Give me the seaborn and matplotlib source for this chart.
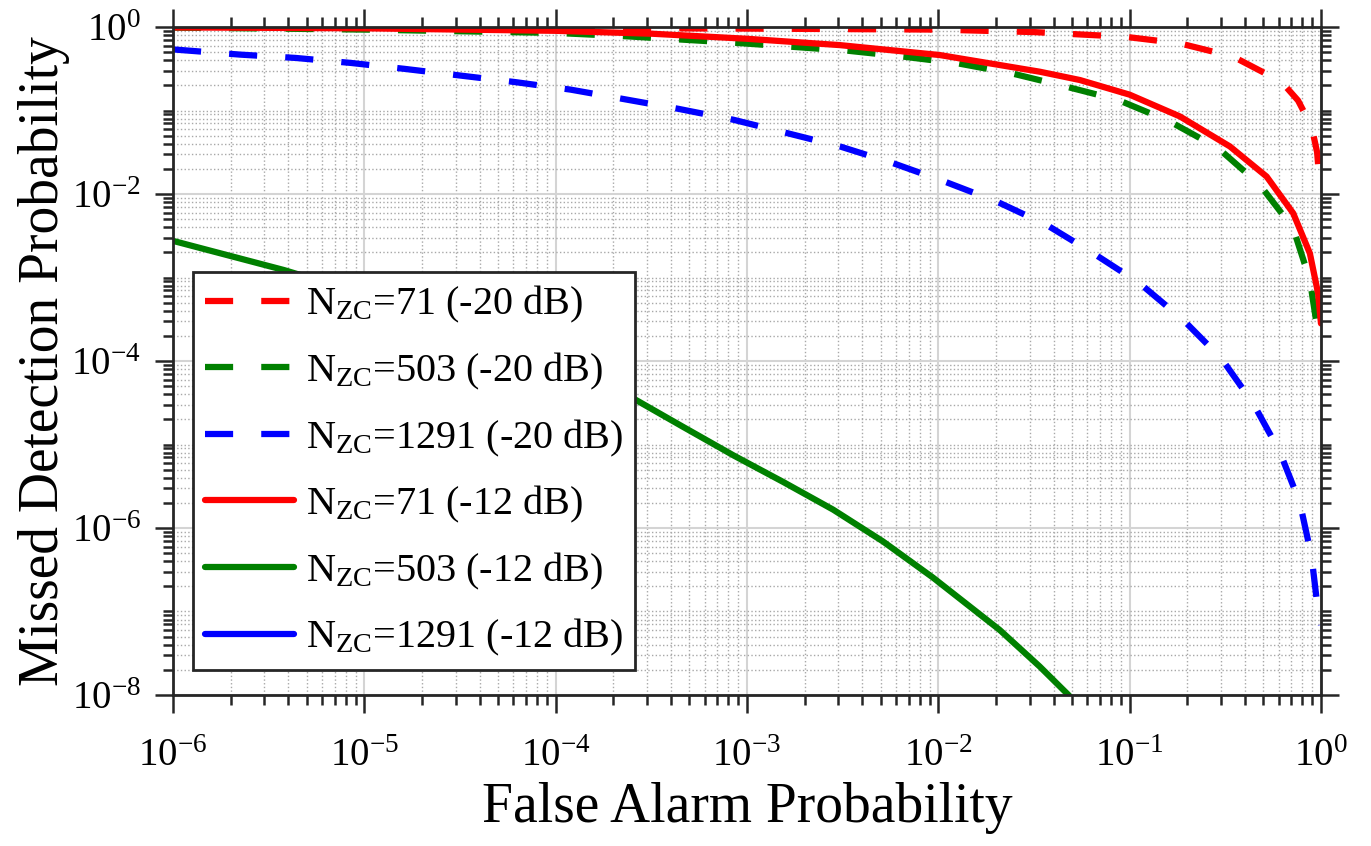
import warnings
warnings.filterwarnings("ignore")

import numpy as np
import pandas as pd
import matplotlib
matplotlib.use("Agg")

import matplotlib.pyplot as plt
import matplotlib.ticker as mticker
import seaborn as sns

# Values (false alarm prob -> missed detection prob)

# N_ZC = 71, -20 dB
pfa_71_m20 = [1e-6, 1e-5, 1e-4, 1e-3, 1e-2, 3.16e-2, 9.44e-2, 0.183, 0.348,
              0.622, 0.759, 0.893, 0.955, 0.979, 1.0]
pmd_71_m20 = [0.991, 0.982, 0.973, 0.959, 0.933, 0.871, 0.766, 0.638, 0.442,
              0.221, 0.132, 0.0646, 0.0316, 0.0155, 0.0117]

# N_ZC = 503, -20 dB
pfa_503_m20 = [1e-6, 1e-5, 1e-4, 2.34e-4, 8.9e-4, 3.39e-3, 6.6e-3, 1.27e-2,
               2.42e-2, 4.68e-2, 8.7e-2, 0.162, 0.29, 0.479, 0.716, 0.875,
               0.966, 1.0]
pmd_503_m20 = [0.989, 0.933, 0.851, 0.776, 0.646, 0.52, 0.442, 0.367,
               0.279, 0.193, 0.134, 0.0741, 0.0355, 0.0129, 3.89e-3, 9.33e-4,
               2.14e-4, 1.62e-4]

# N_ZC = 1291, -20 dB
pfa_1291_m20 = [1e-6, 2.24e-6, 4.37e-6, 8.5e-6, 1.62e-5, 3.16e-5, 6.17e-5,
                1.2e-4, 2.24e-4, 4.37e-4, 8.5e-4, 1.62e-3, 3.06e-3, 5.81e-3,
                1.08e-2, 2.02e-2, 3.68e-2, 6.46e-2, 0.113, 0.191, 0.302,
                0.443, 0.61, 0.776, 0.893, 0.966, 1.0]
pmd_1291_m20 = [0.54, 0.468, 0.427, 0.372, 0.316, 0.263, 0.219,
                0.178, 0.138, 0.105, 0.0776, 0.0537, 0.0372, 0.0234,
                0.0141, 8.13e-3, 4.27e-3, 1.95e-3, 8.51e-4, 3.09e-4, 1.07e-4,
                3.09e-5, 8.13e-6, 2.0e-6, 4.57e-7, 1e-7, 6.9e-8]

# N_ZC = 71, -12 dB
pfa_71_m12 = [1e-6, 1e-5, 1e-4, 3.2e-4, 1e-3, 3.06e-3, 1.02e-2, 3.39e-2,
              5.5e-2, 0.1, 0.183, 0.334, 0.52, 0.716, 0.875, 0.966, 1.0]
pmd_71_m12 = [0.991, 0.966, 0.902, 0.832, 0.724, 0.608, 0.462, 0.292,
              0.232, 0.155, 0.0851, 0.0372, 0.0162, 5.89e-3, 1.95e-3, 6.46e-4,
              2.82e-4]

# N_ZC = 503, -12 dB
pfa_503_m12 = [1e-6, 3.8e-6, 1e-5, 3.16e-5, 1e-4, 2.51e-4, 4.65e-4, 8.5e-4,
               1.55e-3, 2.82e-3, 5.13e-3, 9.33e-3, 2.09e-2, 3.39e-2, 4.79e-2,
               5.5e-2]
pmd_503_m12 = [2.75e-3, 1.23e-3, 6.3e-4, 2.5e-4, 8.9e-5, 3.63e-5, 1.62e-5,
               7.41e-6, 3.55e-6, 1.66e-6, 6.92e-7, 2.57e-7, 6.03e-8, 2.19e-8,
               1e-8, 7e-9]

# N_ZC = 1291, -12 dB stays below the plotted range
pfa_1291_m12 = [1e-6, 1e-5, 1e-4]
pmd_1291_m12 = [5e-9, 1e-10, 1e-12]

labels = [
    r"N$_{\rm ZC}$=71 (-20 dB)",
    r"N$_{\rm ZC}$=503 (-20 dB)",
    r"N$_{\rm ZC}$=1291 (-20 dB)",
    r"N$_{\rm ZC}$=71 (-12 dB)",
    r"N$_{\rm ZC}$=503 (-12 dB)",
    r"N$_{\rm ZC}$=1291 (-12 dB)",
]

series = [
    (pfa_71_m20, pmd_71_m20, "#ff0000", "--"),
    (pfa_503_m20, pmd_503_m20, "#008000", "--"),
    (pfa_1291_m20, pmd_1291_m20, "#0000ff", "--"),
    (pfa_71_m12, pmd_71_m12, "#ff0000", "-"),
    (pfa_503_m12, pmd_503_m12, "#008000", "-"),
    (pfa_1291_m12, pmd_1291_m12, "#0000ff", "-"),
]

sns.set_style("ticks")
plt.rcParams["font.family"] = ["Liberation Serif", "DejaVu Serif"]
plt.rcParams["mathtext.fontset"] = "custom"
plt.rcParams["mathtext.rm"] = "Liberation Serif"
plt.rcParams["mathtext.it"] = "Liberation Serif:italic"
plt.rcParams["mathtext.bf"] = "Liberation Serif:bold"
plt.rcParams["text.color"] = "black"
plt.rcParams["axes.labelcolor"] = "black"
plt.rcParams["xtick.color"] = "black"
plt.rcParams["ytick.color"] = "black"

fig = plt.figure(figsize=(13.71, 8.46), dpi=100)
ax = fig.add_axes([0.1262, 0.1785, 0.8373, 0.7895])

ax.set_xscale("log")
ax.set_yscale("log")

for (x, y, c, ls), lab in zip(series, labels):
    df = pd.DataFrame({"pfa": x, "pmd": y})
    style = (0, (4.5, 4.5)) if ls == "--" else "-"
    sns.lineplot(
        data=df,
        x="pfa",
        y="pmd",
        ax=ax,
        color=c,
        lw=4.5,
        linestyle=style,
        label=lab,
        sort=False
    )

ax.set_xlim(1e-6, 1)
ax.set_ylim(1e-8, 1)

ax.xaxis.set_major_locator(mticker.LogLocator(base=10, numticks=20))
ax.xaxis.set_minor_locator(mticker.LogLocator(base=10, subs=np.arange(2, 10), numticks=20))
ax.yaxis.set_major_locator(mticker.FixedLocator([1e-8, 1e-6, 1e-4, 1e-2, 1e0]))
ax.yaxis.set_minor_locator(mticker.LogLocator(base=10, subs=np.arange(1, 10), numticks=20))
ax.xaxis.set_major_formatter(mticker.LogFormatterMathtext())
ax.yaxis.set_major_formatter(mticker.LogFormatterMathtext())
ax.yaxis.set_minor_formatter(mticker.NullFormatter())
ax.xaxis.set_minor_formatter(mticker.NullFormatter())

ax.set_axisbelow(True)
ax.grid(which="major", color="#d4d4d4", lw=1.5, ls="-")
ax.grid(which="minor", color="#a8a8a8", lw=1.0, ls=":")

ax.tick_params(which="both", direction="out", top=True, right=True,
               width=1.8, color="#262626")
ax.tick_params(which="major", length=13, labelsize=28)
ax.tick_params(axis="x", which="major", pad=18)
ax.tick_params(axis="y", which="major", pad=10)
ax.tick_params(which="minor", length=7)

for sp in ax.spines.values():
    sp.set_linewidth(2)
    sp.set_color("#262626")

ax.set_xlabel("False Alarm Probability", fontsize=40)
ax.set_ylabel("Missed Detection Probability", fontsize=40)
ax.xaxis.set_label_coords(0.5, -0.13)
ax.yaxis.set_label_coords(-0.09, 0.5)

leg = ax.legend(
    loc="upper left",
    bbox_to_anchor=(0.0174, 0.633),
    borderaxespad=0,
    fontsize=29,
    fancybox=False,
    framealpha=1,
    edgecolor="#262626",
    handlelength=2.2,
    handletextpad=0.3,
    labelspacing=0.63,
    borderpad=0.3
)
leg.get_frame().set_linewidth(2)

plt.savefig("out.png", dpi=100)
